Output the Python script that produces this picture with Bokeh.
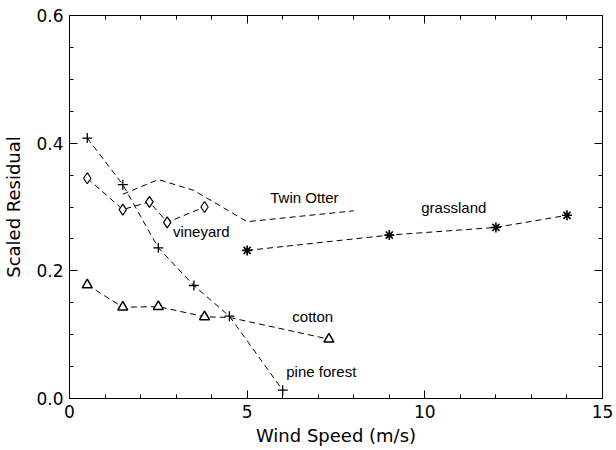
from bokeh.plotting import figure
from bokeh.models import Range1d, LinearAxis, FixedTicker
from bokeh.embed import file_html
from bokeh.resources import INLINE
from bokeh.core.properties import value

# ---- data ----
pine_x = [0.5, 1.5, 2.5, 3.5, 4.5, 6.0]
pine_y = [0.408, 0.335, 0.236, 0.177, 0.129, 0.013]

vine_x = [0.5, 1.5, 2.25, 2.75, 3.8]
vine_y = [0.345, 0.296, 0.308, 0.276, 0.300]

otter_x = [1.5, 2.5, 3.5, 5.0, 8.0]
otter_y = [0.320, 0.343, 0.326, 0.277, 0.294]

grass_x = [5.0, 9.0, 12.0, 14.0]
grass_y = [0.232, 0.256, 0.268, 0.287]

cotton_line_x = [0.5, 1.5, 2.5, 3.8, 4.5, 7.3]
cotton_line_y = [0.178, 0.143, 0.144, 0.128, 0.127, 0.093]
cotton_x = [0.5, 1.5, 2.5, 3.8, 7.3]
cotton_y = [0.178, 0.143, 0.144, 0.128, 0.093]

label_text = ["Twin Otter", "vineyard", "grassland", "cotton", "pine forest"]
label_x = [5.65, 2.91, 9.9, 6.27, 6.1]
label_y = [0.3145, 0.261, 0.299, 0.129, 0.042]

x_ticks = [0, 5, 10, 15]
x_minor = list(range(0, 16))
y_ticks = [0.0, 0.2, 0.4, 0.6]
y_tick_labels = ["0.0", "0.2", "0.4", "0.6"]
y_minor = [i * 0.05 for i in range(13)]

# ---- figure ----
p = figure(width=616, height=450, output_backend="svg", toolbar_location=None,
           x_range=Range1d(0, 15), y_range=Range1d(0, 0.6),
           min_border_left=66, min_border_right=14, min_border_top=15,
           min_border_bottom=52)
p.background_fill_color = "white"
p.border_fill_color = "white"
p.outline_line_color = "black"
p.outline_line_width = 1
p.xgrid.visible = False
p.ygrid.visible = False

FONT = "DejaVu Sans"

def style_axis(ax, ticks, minor):
    ax.ticker = FixedTicker(ticks=ticks, minor_ticks=minor)
    ax.major_tick_in = 8
    ax.major_tick_out = 0
    ax.minor_tick_in = 4
    ax.minor_tick_out = 0
    ax.axis_line_color = "black"
    ax.major_tick_line_color = "black"
    ax.minor_tick_line_color = "black"
    ax.major_label_text_font = FONT
    ax.major_label_text_font_size = "17px"
    ax.major_label_text_color = "black"
    ax.axis_label_text_font = FONT
    ax.axis_label_text_font_size = "18px"
    ax.axis_label_text_font_style = "normal"
    ax.axis_label_text_color = "black"

style_axis(p.xaxis[0], x_ticks, x_minor)
style_axis(p.yaxis[0], y_ticks, y_minor)
p.xaxis[0].axis_label = "Wind Speed (m/s)"
p.yaxis[0].axis_label = "Scaled Residual"
p.xaxis[0].major_label_standoff = 6
p.yaxis[0].major_label_standoff = 6
p.xaxis[0].axis_label_standoff = 4
p.yaxis[0].axis_label_standoff = 9
p.yaxis[0].major_label_overrides = {t: s for t, s in zip(y_ticks, y_tick_labels)}

top = LinearAxis()
right = LinearAxis()
style_axis(top, x_ticks, x_minor)
style_axis(right, y_ticks, y_minor)
top.major_label_overrides = {t: "" for t in x_ticks}
right.major_label_overrides = {t: "" for t in y_ticks}
for ax in (top, right):
    ax.major_label_standoff = 0
p.add_layout(top, "above")
p.add_layout(right, "right")

DASH = "6 4"
# pine forest
p.line(pine_x, pine_y, line_color="black", line_dash=DASH, line_width=1)
p.scatter(pine_x, pine_y, marker="cross", size=10, line_color="black", line_width=1.3)
# vineyard
p.line(vine_x, vine_y, line_color="black", line_dash=DASH, line_width=1)
p.scatter(vine_x, vine_y, marker="diamond", size=11, line_color="black",
          fill_color="white", line_width=1.2)
# Twin Otter
p.line(otter_x, otter_y, line_color="black", line_dash=DASH, line_width=1)
# grassland
p.line(grass_x, grass_y, line_color="black", line_dash=DASH, line_width=1)
p.scatter(grass_x, grass_y, marker="asterisk", size=10, line_color="black", line_width=1.6)
# cotton
p.line(cotton_line_x, cotton_line_y, line_color="black", line_dash=DASH, line_width=1)
p.scatter(cotton_x, cotton_y, marker="triangle", size=10, line_color="black",
          fill_color="white", line_width=1.5)

p.text(label_x, label_y, text=label_text, text_font=value("Liberation Sans"),
       text_font_size="15px", text_align="left", text_baseline="middle",
       text_color="black")

open("out.html", "w").write(file_html(p, INLINE))
